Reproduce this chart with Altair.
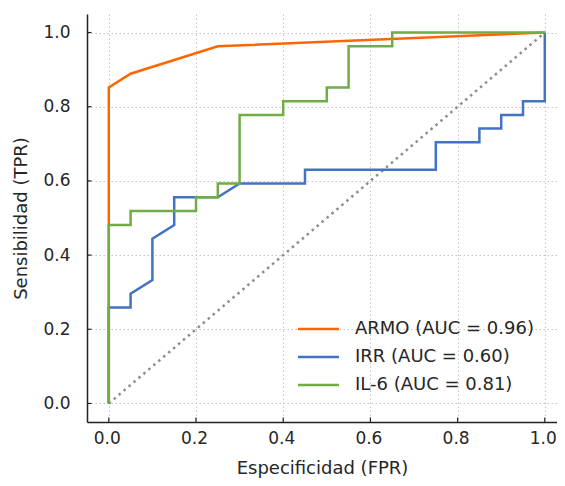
import altair as alt
import pandas as pd

# ---- data ----
series_names = ["ARMO (AUC = 0.96)", "IRR (AUC = 0.60)", "IL-6 (AUC = 0.81)"]
series_colors = ["#ff6600", "#4472c4", "#70ad47"]

armo_fpr = [0.0, 0.0, 0.05, 0.25, 1.0]
armo_tpr = [0.0, 0.852, 0.889, 0.963, 1.0]

irr_fpr = [0.0, 0.0, 0.05, 0.05, 0.10, 0.10, 0.15, 0.15, 0.25, 0.30, 0.45,
           0.45, 0.75, 0.75, 0.85, 0.85, 0.90, 0.90, 0.95, 0.95, 1.0, 1.0]
irr_tpr = [0.0, 0.259, 0.259, 0.296, 0.333, 0.444, 0.481, 0.556, 0.556, 0.593, 0.593,
           0.630, 0.630, 0.704, 0.704, 0.741, 0.741, 0.778, 0.778, 0.815, 0.815, 1.0]

il6_fpr = [0.0, 0.0, 0.05, 0.05, 0.20, 0.20, 0.25, 0.25, 0.30, 0.30,
           0.40, 0.40, 0.50, 0.50, 0.55, 0.55, 0.65, 0.65, 1.0]
il6_tpr = [0.0, 0.481, 0.481, 0.519, 0.519, 0.556, 0.556, 0.593, 0.593, 0.778,
           0.778, 0.815, 0.815, 0.852, 0.852, 0.963, 0.963, 1.0, 1.0]

diag_fpr = [0.0, 1.0]
diag_tpr = [0.0, 1.0]

tick_values = [0.0, 0.2, 0.4, 0.6, 0.8, 1.0]

# ---- build tables ----
rows = []
for name, fpr, tpr in zip(series_names, [armo_fpr, irr_fpr, il6_fpr], [armo_tpr, irr_tpr, il6_tpr]):
    for i, (a, b) in enumerate(zip(fpr, tpr)):
        rows.append({"series": name, "fpr": a, "tpr": b, "idx": i})
df = pd.DataFrame(rows)
diag_df = pd.DataFrame({"fpr": diag_fpr, "tpr": diag_tpr})
ticks_df = pd.DataFrame({"fpr": tick_values, "tpr": tick_values})

FONT = "DejaVu Sans"
TXT = "#262626"

x_scale = alt.Scale(domain=[-0.05, 1.028], nice=False, zero=False)
y_scale = alt.Scale(domain=[-0.05, 1.05], nice=False, zero=False)

x_axis = alt.Axis(values=tick_values, format=".1f", title="Especificidad (FPR)",
                  labelPadding=8, titlePadding=13, ticks=False, tickSize=0,
                  labelOffset=-2)
y_axis = alt.Axis(values=tick_values, format=".1f", title="Sensibilidad (TPR)",
                  labelPadding=17, titlePadding=12, ticks=False, tickSize=0)

diag = alt.Chart(diag_df).mark_line(
    color="#8c8c8c", strokeWidth=2.5, strokeDash=[2.5, 4]
).encode(
    x=alt.X("fpr:Q", scale=x_scale, axis=x_axis),
    y=alt.Y("tpr:Q", scale=y_scale, axis=y_axis),
)

legend = alt.Legend(
    title=None, orient="none", legendX=220, legendY=303.5,
    symbolType="M-2,0H2", symbolSize=420, symbolStrokeWidth=2.5,
    labelOffset=25, rowPadding=7, padding=0,
    labelFontSize=18, labelFont=FONT, labelColor=TXT, labelLimit=0,
)

color = alt.Color("series:N", scale=alt.Scale(domain=series_names, range=series_colors),
                  legend=legend)

line_layers = []
for name in series_names:
    line_layers.append(
        alt.Chart(df).transform_filter(alt.datum.series == name).mark_line(
            strokeWidth=2.5
        ).encode(
            x=alt.X("fpr:Q", scale=x_scale, axis=x_axis),
            y=alt.Y("tpr:Q", scale=y_scale, axis=y_axis),
            color=color,
            order=alt.Order("idx:Q"),
        )
    )

xticks = alt.Chart(ticks_df).mark_rule(color="#222222", strokeWidth=1.2).encode(
    x=alt.X("fpr:Q", scale=x_scale, axis=x_axis),
    y=alt.value(403.5), y2=alt.value(408),
)
yticks = alt.Chart(ticks_df).mark_rule(color="#222222", strokeWidth=1.2).encode(
    y=alt.Y("tpr:Q", scale=y_scale, axis=y_axis),
    x=alt.value(0), x2=alt.value(4.5),
)

chart = alt.layer(diag, *line_layers, xticks, yticks).properties(
    width=470, height=408,
    autosize=alt.AutoSizeParams(type="none"),
    padding={"left": 79, "top": 6, "right": 0, "bottom": 56},
).configure_view(stroke=None).configure_axis(
    labelFont=FONT, titleFont=FONT, labelFontSize=17, titleFontSize=18,
    labelColor=TXT, titleColor=TXT, titleFontWeight="normal",
    domainColor="#222222", domainWidth=1.5,
    grid=True, gridColor="#c4c4c4", gridDash=[1.5, 2.5], gridWidth=1,
)

chart.save("out.html", embed_options={"renderer": "svg", "actions": False})
